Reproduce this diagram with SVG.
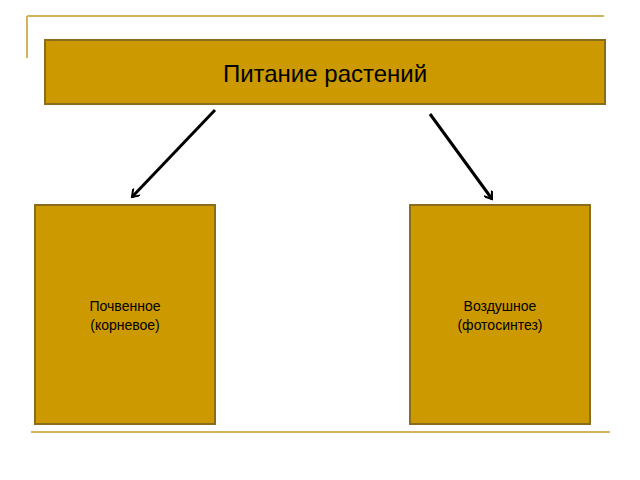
<svg xmlns="http://www.w3.org/2000/svg" width="640" height="480" viewBox="0 0 640 480">
<defs><style>
.box{fill:#cc9900;stroke:#8a6d1a;stroke-width:2}
.t{font-family:"Liberation Sans",Arial,sans-serif;fill:#000;text-anchor:middle}
.c{stroke:#000;stroke-width:3;fill:none;marker-end:url(#a)}
</style>
<marker id="a" markerWidth="10" markerHeight="10" refX="8" refY="5" orient="auto" markerUnits="userSpaceOnUse"><path d="M1,0 L8,5 L1,10" fill="none" stroke="#000" stroke-width="2"/></marker></defs>
<rect width="640" height="480" fill="#fff"/>
<g id="frame" stroke="#d4b45a" stroke-width="2">
<line x1="27" y1="16" x2="604" y2="16"/><line x1="27" y1="16" x2="27" y2="58"/>
<line x1="31" y1="432" x2="610" y2="432"/></g>
<g id="top"><rect class="box" x="45" y="40" width="560" height="64"/><text class="t" x="325" y="82" font-size="24">Питание растений</text></g>
<g id="left"><rect class="box" x="35" y="205" width="180" height="219"/><text class="t" x="125" y="311" font-size="14">Почвенное</text><text class="t" x="125" y="330" font-size="14">(корневое)</text></g>
<g id="right"><rect class="box" x="410" y="205" width="180" height="219"/><text class="t" x="500" y="311" font-size="14">Воздушное</text><text class="t" x="500" y="330" font-size="14">(фотосинтез)</text></g>
<g id="connectors"><line class="c" x1="215" y1="110" x2="132" y2="197"/><line class="c" x1="430" y1="114" x2="492" y2="199"/></g>
</svg>
